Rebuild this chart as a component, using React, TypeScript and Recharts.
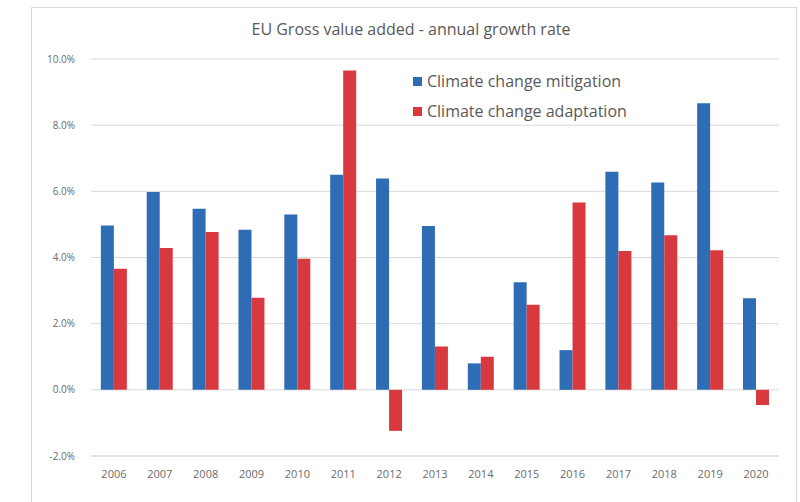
import React from "react";
import { BarChart, Bar, XAxis, YAxis, CartesianGrid } from "recharts";

const years = ["2006", "2007", "2008", "2009", "2010", "2011", "2012", "2013", "2014", "2015", "2016", "2017", "2018", "2019", "2020"];
const mitigation = [4.97, 5.98, 5.47, 4.84, 5.3, 6.5, 6.39, 4.95, 0.8, 3.25, 1.2, 6.59, 6.27, 8.66, 2.77];
const adaptation = [3.66, 4.29, 4.77, 2.78, 3.96, 9.65, -1.24, 1.31, 1.0, 2.57, 5.66, 4.2, 4.67, 4.22, -0.46];
const yTicks = [-2, 0, 2, 4, 6, 8, 10];

const seriesNames = ["Climate change mitigation", "Climate change adaptation"];
const colors = ["#2e6cb5", "#d7393f"];

const data = years.map((y, i) => ({ year: y, mitigation: mitigation[i], adaptation: adaptation[i] }));

const FONT = "'Open Sans', 'Liberation Sans', sans-serif";

export default function App() {
  return (
    <div style={{ position: "absolute", left: 0, top: 0, width: 800, height: 502, background: "#fff", overflow: "hidden" }}>
      <div style={{ position: "absolute", left: 31, top: 7, width: 766, height: 520, border: "1px solid #d9d9d9", boxSizing: "border-box" }} />
      <div style={{ position: "absolute", left: 31, top: 18, width: 760, textAlign: "center", fontFamily: FONT, fontSize: 16, color: "#595959" }}>
        EU Gross value added - annual growth rate
      </div>
      <BarChart width={800} height={502} data={data} margin={{ top: 59, right: 21, left: 31, bottom: 16 }} barCategoryGap="21.5%" barGap={0}>
        <CartesianGrid vertical={false} stroke="#d9d9d9" />
        <XAxis
          dataKey="year"
          axisLine={{ stroke: "#d9d9d9" }}
          tickLine={false}
          height={30}
          tick={{ fontSize: 11, fill: "#6b6b6b", fontFamily: FONT }}
          tickMargin={8}
          interval={0}
        />
        <YAxis
          domain={[-2, 10]}
          ticks={yTicks}
          width={60}
          axisLine={false}
          tickLine={false}
          tickFormatter={(v: number) => v.toFixed(1) + "%"}
          tick={{ fontSize: 10, fill: "#6b6b6b", fontFamily: FONT }}
          tickMargin={10}
        />
        <Bar dataKey="mitigation" name={seriesNames[0]} fill={colors[0]} isAnimationActive={false} />
        <Bar dataKey="adaptation" name={seriesNames[1]} fill={colors[1]} isAnimationActive={false} />
      </BarChart>
      <div style={{ position: "absolute", left: 413, top: 66, fontFamily: FONT }}>
        {seriesNames.map((n, i) => (
          <div key={n} style={{ display: "flex", alignItems: "center", height: 30, color: "#595959", fontSize: 16 }}>
            <span style={{ display: "inline-block", width: 9, height: 9, background: colors[i], marginRight: 5 }} />
            <span>{n}</span>
          </div>
        ))}
      </div>
    </div>
  );
}
